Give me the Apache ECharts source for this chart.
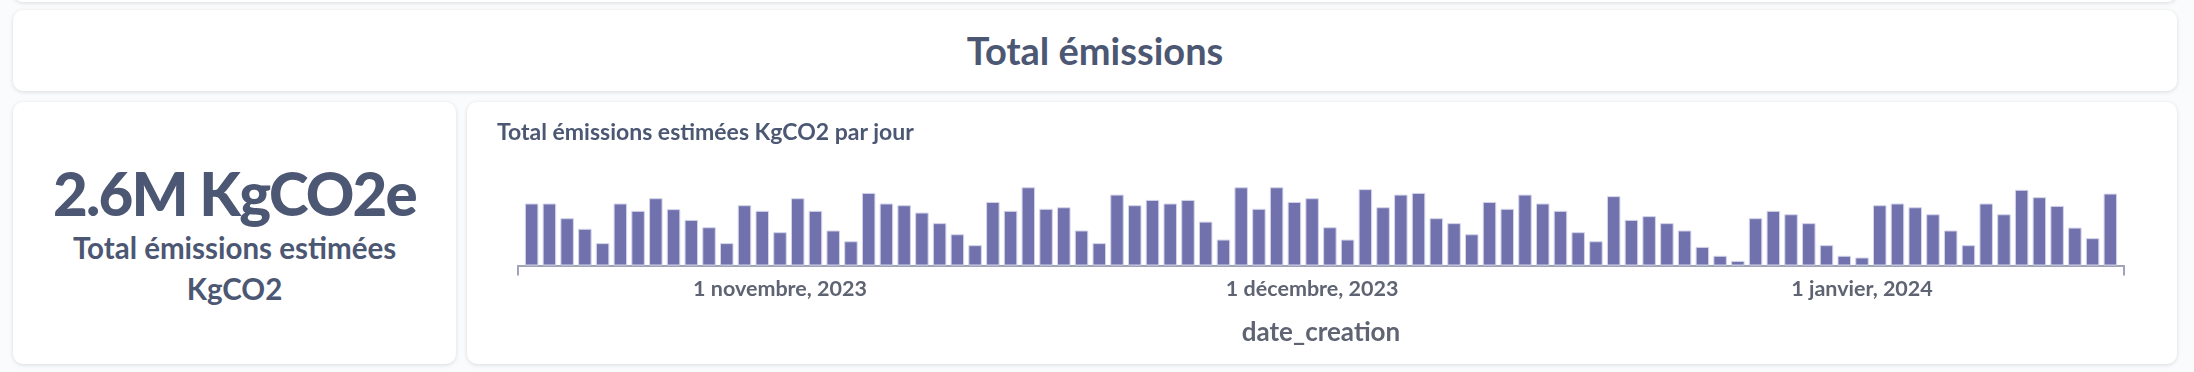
<!DOCTYPE html>
<html>
<head>
<meta charset="utf-8">
<script src="https://cdn.jsdelivr.net/npm/echarts@6/dist/echarts.min.js"></script>
<style>
html,body{margin:0;padding:0;width:2194px;height:372px;overflow:hidden;background:#f9fbfc;font-family:Lato,"Noto Sans",sans-serif;}
.card{position:absolute;background:#fff;border-radius:10px;box-shadow:0 1px 4px rgba(0,0,0,0.13);}
#topcard{left:13px;top:-40px;width:2164px;height:42px;}
#titlecard{left:13px;top:10px;width:2164px;height:81px;}
#titlecard .t{position:absolute;left:0;right:0;top:18px;text-align:center;font-size:38px;line-height:44px;font-weight:700;color:#4c5773;}
#scalar{left:13px;top:102px;width:443px;height:262px;}
#scalar .v{position:absolute;left:0;right:0;top:55px;text-align:center;font-size:60px;line-height:73px;font-weight:900;letter-spacing:-1.8px;color:#4c5773;white-space:nowrap;}
#scalar .s{position:absolute;left:0;right:0;top:125px;text-align:center;font-size:29.5px;line-height:41.4px;font-weight:700;color:#4c5773;}
#chartcard{left:467px;top:102px;width:1710px;height:262px;}
#chartcard .ct{position:absolute;left:30px;top:15px;font-size:23px;line-height:29px;font-weight:700;color:#4c5773;white-space:nowrap;}
#chart{position:absolute;left:0;top:0;width:1710px;height:262px;}
</style>
</head>
<body>
<div class="card" id="topcard"></div>
<div class="card" id="titlecard"><div class="t" id="pageTitle"></div></div>
<div class="card" id="scalar"><div class="v" id="scalarValue"></div><div class="s" id="scalarLabel"></div></div>
<div class="card" id="chartcard"><div id="chart"></div><div class="ct" id="chartTitle"></div></div>
<script>
// ---- data ----
const pageTitle = 'Total émissions';
const scalarValue = '2.6M KgCO2e';
const scalarLabelLines = ['Total émissions estimées', 'KgCO2'];
const chartTitle = 'Total émissions estimées KgCO2 par jour';
const xAxisName = 'date_creation';

const dates = [
  '2023-10-18','2023-10-19','2023-10-20','2023-10-21','2023-10-22','2023-10-23','2023-10-24','2023-10-25','2023-10-26','2023-10-27',
  '2023-10-28','2023-10-29','2023-10-30','2023-10-31','2023-11-01','2023-11-02','2023-11-03','2023-11-04','2023-11-05','2023-11-06',
  '2023-11-07','2023-11-08','2023-11-09','2023-11-10','2023-11-11','2023-11-12','2023-11-13','2023-11-14','2023-11-15','2023-11-16',
  '2023-11-17','2023-11-18','2023-11-19','2023-11-20','2023-11-21','2023-11-22','2023-11-23','2023-11-24','2023-11-25','2023-11-26',
  '2023-11-27','2023-11-28','2023-11-29','2023-11-30','2023-12-01','2023-12-02','2023-12-03','2023-12-04','2023-12-05','2023-12-06',
  '2023-12-07','2023-12-08','2023-12-09','2023-12-10','2023-12-11','2023-12-12','2023-12-13','2023-12-14','2023-12-15','2023-12-16',
  '2023-12-17','2023-12-18','2023-12-19','2023-12-20','2023-12-21','2023-12-22','2023-12-23','2023-12-24','2023-12-25','2023-12-26',
  '2023-12-27','2023-12-28','2023-12-29','2023-12-30','2023-12-31','2024-01-01','2024-01-02','2024-01-03','2024-01-04','2024-01-05',
  '2024-01-06','2024-01-07','2024-01-08','2024-01-09','2024-01-10','2024-01-11','2024-01-12','2024-01-13','2024-01-14','2024-01-15'
];
const emissions = [
  36300,36300,27700,21500,13100,36300,32000,39400,33000,26700,
  22400,13100,35300,32000,19500,39400,32000,20500,14200,42500,
  36300,35300,31000,24800,18300,11900,37200,32000,45800,33200,
  34100,20500,13100,41500,35300,38400,36300,38400,25700,15200,
  45800,33200,45800,37200,39400,22400,15200,44700,34100,41500,
  42500,27700,24800,18300,37200,33200,41500,36300,32000,19500,
  14200,40600,26700,28900,24800,20500,10900,5700,2700,27700,
  32000,30000,24800,11900,5700,4700,35300,36300,34100,30000,
  20500,11900,36300,30000,44300,40000,34900,22200,16000,42100
];
const tickDates = ['2023-11-01','2023-12-01','2024-01-01'];
const tickLabels = ['1 novembre, 2023','1 décembre, 2023','1 janvier, 2024'];

// ---- text ----
document.getElementById('pageTitle').textContent = pageTitle;
document.getElementById('scalarValue').textContent = scalarValue;
document.getElementById('scalarLabel').innerHTML = scalarLabelLines.map(s => s.replace(/&/g,'&amp;').replace(/</g,'&lt;')).join('<br>');
document.getElementById('chartTitle').textContent = chartTitle;

// ---- chart ----
function toTime(s){ const p = s.split('-'); return Date.UTC(+p[0], +p[1]-1, +p[2]); }
const DAY = 86400000;
const PAD = 0.77 * DAY;
const xMin = toTime(dates[0]) - PAD;
const xMax = toTime(dates[dates.length-1]) + PAD;
const tickTimes = tickDates.map(toTime);
const axisColor = '#a1a4b6';
const labelColor = '#5f6473';

const chart = echarts.init(document.getElementById('chart'), null, {renderer:'canvas'});
chart.setOption({
  animation: false,
  grid: {left: 51, right: 53, top: 61, bottom: 98.5, containLabel: false},
  xAxis: {
    type: 'value', min: xMin, max: xMax, scale: true,
    name: xAxisName, nameLocation: 'middle', nameGap: 54,
    nameTextStyle: {fontFamily: 'Lato', fontWeight: 'bold', fontSize: 26, color: labelColor},
    axisLine: {show: true, onZero: false, lineStyle: {color: axisColor, width: 2}},
    axisTick: {show: true, customValues: [xMin, xMax], length: 10, lineStyle: {color: axisColor, width: 2}},
    axisLabel: {
      show: true, customValues: tickTimes, margin: 13, hideOverlap: false,
      fontFamily: 'Lato', fontWeight: 'bold', fontSize: 21.5, lineHeight: 22, color: labelColor,
      formatter: function (v) {
        let best = -1, bd = Infinity;
        tickTimes.forEach((t, i) => { const d = Math.abs(t - v); if (d < bd) { bd = d; best = i; } });
        return bd < DAY / 2 ? tickLabels[best] : '';
      }
    },
    splitLine: {show: false}, minorTick: {show: false}
  },
  yAxis: {type: 'value', min: 0, max: 60000, show: false, splitLine: {show: false}},
  series: [{
    type: 'bar',
    data: dates.map((d, i) => [toTime(d), emissions[i]]),
    barWidth: 13.5,
    itemStyle: {color: '#7172ad', borderColor: '#d4d5ea', borderWidth: 1}
  }]
});
</script>
</body>
</html>
